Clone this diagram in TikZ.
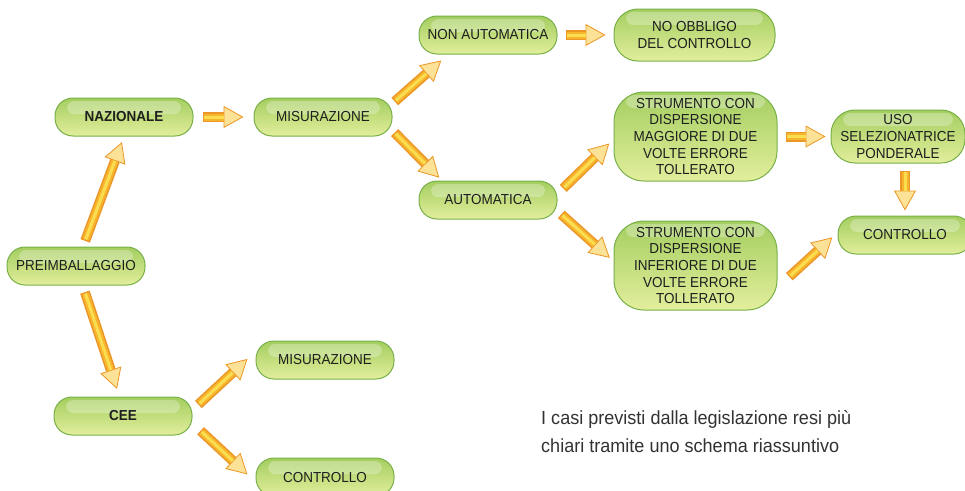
\documentclass[tikz,border=0pt]{standalone}
\usepackage{fontspec}
\setmainfont{Liberation Sans}
\newfontfamily\boxfont{Liberation Sans}[FakeStretch=0.93]
\newfontfamily\notefont{Liberation Sans}[FakeStretch=0.95]
\usepackage{tikz}
\usetikzlibrary{positioning,arrows.meta}
\definecolor{boxedge}{RGB}{120,176,72}
\definecolor{boxtop}{RGB}{164,206,96}
\definecolor{boxbot}{RGB}{226,238,156}
\definecolor{boxtext}{RGB}{30,30,30}
\definecolor{arrowedge}{RGB}{236,150,40}
\definecolor{arrowmid}{RGB}{247,180,45}
\definecolor{arrowlight}{RGB}{250,222,80}
\definecolor{arrowtip}{RGB}{252,226,150}
\definecolor{notetext}{RGB}{50,50,50}
\tikzset{
  box/.style={draw=boxedge,line width=1pt,rounded corners=18pt,
             top color=boxtop,bottom color=boxbot,
             minimum width=138pt,minimum height=38pt,inner sep=2pt,
             align=center,text=boxtext,font=\boxfont\fontsize{14.5}{16.7}\selectfont,
             path picture={\fill[white,opacity=.28,rounded corners=7pt]
               ([xshift=12pt,yshift=-3pt]path picture bounding box.north west) rectangle
               ([xshift=-12pt,yshift=-16pt]path picture bounding box.north east);}},
  bigbox/.style={box,rounded corners=30pt,minimum width=163pt,minimum height=89pt},
  flow/.style 2 args={line width=10pt,draw=arrowedge,
             -{Triangle[length=20pt,width=22pt,line width=0.8pt,color=arrowedge,fill=arrowtip]},
             shorten <=#1,shorten >=#2,
             postaction={draw=arrowmid,line width=7pt,-,shorten <=#1+1.5pt,shorten >=#2+20pt},
             postaction={draw=arrowlight,line width=3pt,-,shorten <=#1+1.5pt,shorten >=#2+20pt}},
  note/.style={align=left,inner sep=0pt,text=notetext,
             font=\notefont\fontsize{19}{28}\selectfont},
}
\begin{document}
\begin{tikzpicture}
  \useasboundingbox (0,0) rectangle (965pt,-490pt);
  % left column
  \node[box] (pre) at (76pt,-266pt) {PREIMBALLAGGIO};
  \node[box,above=110pt of pre,xshift=48pt] (naz) {\textbf{NAZIONALE}};
  \node[box,below=111pt of pre,xshift=47pt] (cee) {\textbf{CEE}};
  % national branch
  \node[box,right=60pt of naz] (mis1) {MISURAZIONE};
  \node[box,above right=43pt and 26pt of mis1] (nonaut) {NON AUTOMATICA};
  \node[box,below right=44pt and 26pt of mis1] (aut) {AUTOMATICA};
  \node[box,right=56pt of nonaut,minimum width=161pt,minimum height=52pt,
        rounded corners=24pt] (noobb) {NO OBBLIGO\\DEL CONTROLLO};
  \node[bigbox,below=30pt of noobb,xshift=1pt] (strum1)
    {STRUMENTO CON\\DISPERSIONE\\MAGGIORE DI DUE\\VOLTE ERRORE\\TOLLERATO};
  \node[bigbox,below=39pt of strum1] (strum2)
    {STRUMENTO CON\\DISPERSIONE\\INFERIORE DI DUE\\VOLTE ERRORE\\TOLLERATO};
  \node[box,right=53pt of strum1,minimum width=134pt,minimum height=53pt,
        rounded corners=24pt] (uso) {USO\\SELEZIONATRICE\\PONDERALE};
  \node[box,below=52pt of uso,xshift=7pt,minimum width=134pt] (contr1) {CONTROLLO};
  % CEE branch
  \node[box,above right=17pt and 63pt of cee] (mis2) {MISURAZIONE};
  \node[box,below right=22pt and 63pt of cee] (contr2) {CONTROLLO};
  % arrows
  \draw[flow={6pt}{6pt}] (pre.70) -- (naz.south);
  \draw[flow={9pt}{10pt}] (naz.east) -- (mis1.west);
  \draw[flow={3pt}{9pt}] (mis1.11) -- (nonaut.206);
  \draw[flow={3pt}{4pt}] (mis1.-11) -- (aut.157);
  \draw[flow={8pt}{8pt}] (nonaut.east) -- (noobb.west);
  \draw[flow={8pt}{6pt}] (aut.5) -- (strum1.182);
  \draw[flow={5pt}{5pt}] (aut.-9) -- (strum2.177);
  \draw[flow={8pt}{5pt}] (strum1.east) -- (strum1.east -| uso.west);
  \draw[flow={7pt}{5pt}] (uso.south -| contr1) -- (contr1.north);
  \draw[flow={16pt}{7pt}] (strum2.-15) -- (contr1.178);
  \draw[flow={7pt}{8pt}] (pre.-71) -- (cee.100);
  \draw[flow={8pt}{11pt}] (cee.5) -- (mis2.173);
  \draw[flow={11pt}{11pt}] (cee.-6) -- (contr2.184);
  % caption
  \node[note,anchor=north west] (caption) at (541pt,-410pt)
    {I casi previsti dalla legislazione resi più\\chiari tramite uno schema riassuntivo};
\end{tikzpicture}
\end{document}
